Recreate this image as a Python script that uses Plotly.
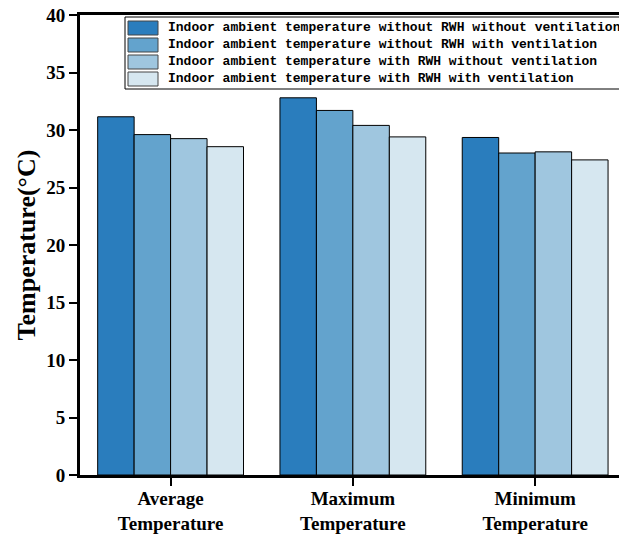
import plotly.graph_objects as go

categories = ["Average<br>Temperature", "Maximum<br>Temperature", "Minimum<br>Temperature"]
series_names = [
    "Indoor ambient temperature without RWH without ventilation",
    "Indoor ambient temperature without RWH with ventilation",
    "Indoor ambient temperature with RWH without ventilation",
    "Indoor ambient temperature with RWH with ventilation",
]
no_rwh_no_vent = [31.15, 32.8, 29.35]
no_rwh_vent = [29.6, 31.7, 28.0]
rwh_no_vent = [29.25, 30.4, 28.1]
rwh_vent = [28.55, 29.4, 27.4]
y_ticks = [0, 5, 10, 15, 20, 25, 30, 35, 40]

colors = ["#2a7dbd", "#63a3cd", "#9fc6df", "#d6e7f0"]
series = [no_rwh_no_vent, no_rwh_vent, rwh_no_vent, rwh_vent]

W, H = 619, 539
L, R, T, B = 80, 0, 15, 64
PW, PH = W - L - R, H - T - B


def px(x):
    return (x - L) / PW


def py(y):
    return (H - B - y) / PH


fig = go.Figure()
for name, vals, c in zip(series_names, series, colors):
    fig.add_trace(go.Bar(
        x=list(range(len(categories))), y=vals, name=name,
        marker=dict(color=c, line=dict(color="black", width=1)),
    ))

# manual legend (so the overflowing legend does not shrink the plot)
shapes = [dict(type="rect", xref="paper", yref="paper",
               x0=px(125), x1=px(660), y0=py(89), y1=py(17),
               fillcolor="white", line=dict(color="black", width=1), layer="above")]
annotations = []
for i, (name, c) in enumerate(zip(series_names, colors)):
    top = 21 + 17 * i
    shapes.append(dict(type="rect", xref="paper", yref="paper",
                       x0=px(128), x1=px(158), y0=py(top + 14), y1=py(top),
                       fillcolor=c, line=dict(color="#444444", width=1), layer="above"))
    annotations.append(dict(xref="paper", yref="paper", x=px(166), y=py(top + 7),
                            xanchor="left", yanchor="middle", showarrow=False,
                            text=name,
                            font=dict(family="Liberation Mono", size=13, color="black", weight="bold")))

fig.update_layout(
    width=W, height=H,
    margin=dict(l=L, r=R, t=T, b=B),
    paper_bgcolor="white", plot_bgcolor="white",
    barmode="group", bargap=0.2, bargroupgap=0,
    showlegend=False,
    shapes=shapes, annotations=annotations,
    font=dict(family="Liberation Serif", color="black"),
)
fig.update_xaxes(
    range=[-0.497, 2.46],
    tickmode="array", tickvals=list(range(len(categories))), ticktext=categories,
    tickfont=dict(family="Liberation Serif", size=19, color="black", weight="bold"),
    ticklabelstandoff=-4,
    showline=True, linecolor="black", linewidth=3, mirror=True,
    ticks="outside", ticklen=8, tickwidth=2, tickcolor="black",
    showgrid=False, zeroline=False,
)
fig.update_yaxes(
    range=[0, 40], tickmode="array", tickvals=y_ticks,
    tickfont=dict(family="Liberation Serif", size=19, color="black", weight="bold"),
    title=dict(text="Temperature(°C)", font=dict(family="Liberation Serif", size=26, color="black", weight="bold"), standoff=4),
    showline=True, linecolor="black", linewidth=3, mirror=False,
    ticks="outside", ticklen=8, tickwidth=2, tickcolor="black",
    showgrid=False, zeroline=False,
)

fig.write_html("out.html")
